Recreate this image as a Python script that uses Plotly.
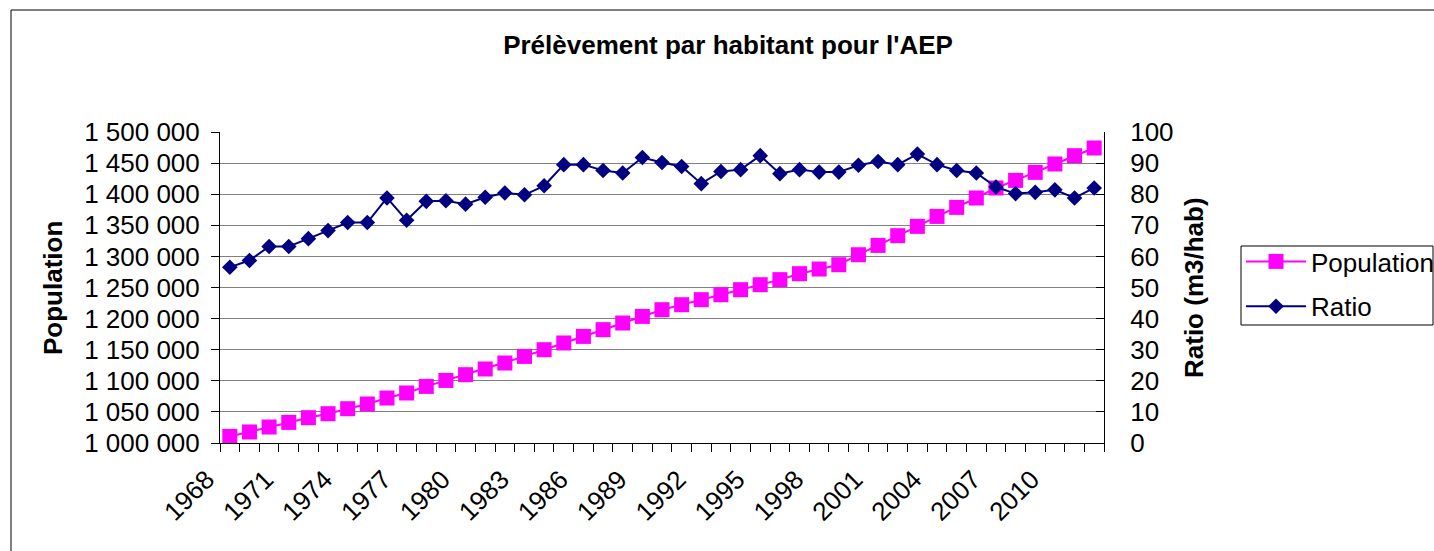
import plotly.graph_objects as go

years = list(range(1968, 2013))
population = [1010600, 1017700, 1025700, 1033100, 1040700, 1047100, 1055100, 1062700, 1072300,
              1080400, 1091000, 1100600, 1109800, 1119000, 1128600, 1139200, 1150000, 1160800,
              1171400, 1182200, 1192900, 1203500, 1214300, 1222300, 1230400, 1238400, 1246500,
              1254500, 1262600, 1272200, 1279700, 1286600, 1302700, 1317700, 1333300, 1348300,
              1364300, 1378800, 1393900, 1410000, 1422200, 1435100, 1448600, 1461900, 1474300]
ratio = [56.5, 58.7, 63.2, 63.2, 65.7, 68.3, 70.9, 70.9, 78.8, 71.6, 77.7, 77.9, 76.8, 79.0,
         80.4, 79.8, 82.7, 89.5, 89.5, 87.6, 86.8, 91.8, 90.2, 88.9, 83.4, 87.3, 87.9, 92.4,
         86.6, 87.9, 87.1, 87.1, 89.3, 90.5, 89.5, 92.9, 89.5, 87.6, 86.8, 82.3, 80.2, 80.6,
         81.4, 78.8, 82.0]
tick_years = list(range(1968, 2011, 3))

FONT = "Liberation Sans, Arial, sans-serif"
W, H = 1434, 551
L, R, T, B = 220, 1104, 132, 443
pw, ph = R - L, B - T

def px(x):
    return (x - L) / pw

def py(y):
    return (B - y) / ph

fig = go.Figure()
fig.add_trace(go.Scatter(x=years, y=population, name="Population", mode="lines+markers",
                         line=dict(color="#FF00FF", width=2),
                         marker=dict(symbol="square", size=15, color="#FF00FF"),
                         legendgroup="a"))
fig.add_trace(go.Scatter(x=years, y=ratio, name="Ratio", mode="lines+markers", yaxis="y2",
                         line=dict(color="#000080", width=2),
                         marker=dict(symbol="diamond", size=12, color="#000080"),
                         legendgroup="b"))

fig.update_layout(
    width=W, height=H,
    margin=dict(l=L, r=W - R, t=T, b=H - B, autoexpand=False),
    paper_bgcolor="white", plot_bgcolor="white",
    font=dict(family=FONT, size=26, color="black"),
    separators=", ",
    title=dict(text="<b>Prélèvement par habitant pour l'AEP</b>", x=728 / W, xref="container",
               xanchor="center", y=1 - 45 / H, yref="container", yanchor="middle",
               font=dict(size=26, family=FONT, color="black")),
    xaxis=dict(range=[1967.5, 2012.5], tickmode="array", tickvals=tick_years,
               ticktext=[str(y) for y in tick_years], tickangle=-45, ticks="",
               ticklabelstandoff=10, ticklabelshift=-23, automargin=False,
               showline=True, linecolor="black", linewidth=1, showgrid=False, zeroline=False,
               minor=dict(ticks="outside", ticklen=8, tickcolor="black", tick0=1967.5, dtick=1,
                          showgrid=False),
               tickfont=dict(size=26)),
    yaxis=dict(range=[1000000, 1500000], dtick=50000, tickformat=",d", ticks="outside",
               ticklen=8, tickcolor="black", showline=True, linecolor="black", linewidth=1,
               showgrid=True, gridcolor="#808080", gridwidth=1, zeroline=False, automargin=False,
               ticklabelstandoff=6, tickfont=dict(size=26)),
    yaxis2=dict(range=[0, 100], dtick=10, overlaying="y", side="right", ticks="inside",
                ticklen=8, tickcolor="black", showline=True, linecolor="black", linewidth=1,
                showgrid=False, zeroline=False, automargin=False,
                ticklabelstandoff=20, tickfont=dict(size=26)),
    legend=dict(x=px(1241), y=py(238), xanchor="left", yanchor="top",
                borderwidth=0, bgcolor="rgba(0,0,0,0)",
                font=dict(size=26, family=FONT), itemwidth=60, tracegroupgap=8),
    showlegend=True,
)

fig.add_annotation(text="<b>Population</b>", x=px(53), y=py(288), xref="paper", yref="paper",
                   textangle=-90, showarrow=False, xanchor="center", yanchor="middle",
                   font=dict(size=26, family=FONT))
fig.add_annotation(text="<b>Ratio (m3/hab)</b>", x=px(1194), y=py(288), xref="paper", yref="paper",
                   textangle=-90, showarrow=False, xanchor="center", yanchor="middle",
                   font=dict(size=26, family=FONT))

# outer chart border
fig.add_shape(type="rect", xref="paper", yref="paper",
              x0=px(11), x1=px(1460), y0=py(580), y1=py(10),
              line=dict(color="black", width=1), fillcolor="rgba(0,0,0,0)", layer="below")
# legend box
fig.add_shape(type="rect", xref="paper", yref="paper",
              x0=px(1241), x1=px(1433), y0=py(325), y1=py(246),
              line=dict(color="black", width=1), fillcolor="rgba(0,0,0,0)", layer="below")

fig.write_html("out.html", config={"displayModeBar": False},
               post_script="document.body.style.margin='0';document.body.style.overflow='hidden';")
